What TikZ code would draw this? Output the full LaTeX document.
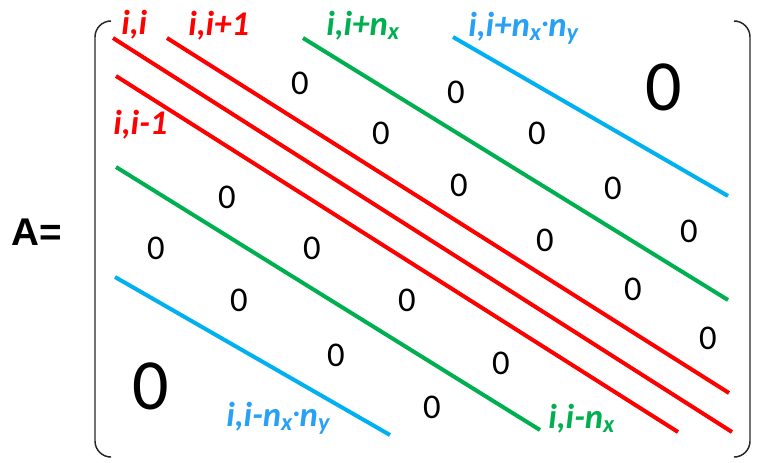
\documentclass[tikz,border=0pt]{standalone}
\usepackage{fontspec}
\setmainfont{Carlito}
\newfontfamily\arialfont{Liberation Sans}
\usetikzlibrary{positioning}
\definecolor{diagred}{RGB}{255,0,0}
\definecolor{diaggreen}{RGB}{0,176,80}
\definecolor{diagblue}{RGB}{0,176,240}
\definecolor{lblblue}{RGB}{40,160,245}
\newcommand{\pontomeio}{\raisebox{0.12em}{\fontsize{19}{19}\selectfont·}}

\begin{document}
\begin{tikzpicture}[
    x=0.75pt,
    y=-0.75pt,
    diagonal/.style={
        line width=3pt
    },
    rotulo/.style={
        anchor=base west,
        inner sep=0pt,
        font=\fontsize{26}{30}\selectfont\bfseries\itshape
    },
    zero/.style={
        inner sep=0pt,
        font=\fontsize{26}{30}\selectfont
    },
    zerogrande/.style={
        inner sep=0pt,
        font=\fontsize{54}{60}\selectfont
    },
    colchete/.style={
        line width=1.1pt,
        black!85,
        rounded corners=12
    }
]

\useasboundingbox (0,0) rectangle (759,462);

% ============================================================
% NOME DA MATRIZ
% ============================================================

\node[inner sep=0pt, font=\arialfont\fontsize{29}{32}\selectfont\bfseries] (nome) at (37,232) {A=};

% ============================================================
% COLCHETES
% ============================================================

\coordinate (esqtopo) at (108,21);
\coordinate (esqbase) at (108,457);
\coordinate (dirtopo) at (737,21);
\coordinate (dirbase) at (737,457);

\draw[colchete] (esqtopo) -- ++(-13,0) -- ++(0,436) -- (esqbase);
\draw[colchete] (dirtopo) -- ++(13,0) -- ++(0,436) -- (dirbase);

% ============================================================
% DIAGONAIS
% ============================================================

\coordinate (d0a) at (113,38);   \coordinate (d0b) at (732,432);
\coordinate (dp1a) at (167,38);  \coordinate (dp1b) at (729,393);
\coordinate (dm1a) at (116,76);  \coordinate (dm1b) at (678,432);
\coordinate (dpxa) at (303,38);  \coordinate (dpxb) at (728,300);
\coordinate (dmxa) at (116,167); \coordinate (dmxb) at (540,430);
\coordinate (dpya) at (453,37);  \coordinate (dpyb) at (728,196);
\coordinate (dmya) at (115,277); \coordinate (dmyb) at (390,435);

\draw[diagonal, diagred] (d0a) -- (d0b);
\draw[diagonal, diagred] (dp1a) -- (dp1b);
\draw[diagonal, diagred] (dm1a) -- (dm1b);
\draw[diagonal, diaggreen] (dpxa) -- (dpxb);
\draw[diagonal, diaggreen] (dmxa) -- (dmxb);
\draw[diagonal, diagblue] (dpya) -- (dpyb);
\draw[diagonal, diagblue] (dmya) -- (dmyb);

% ============================================================
% ROTULOS
% ============================================================

\node[rotulo, diagred] (r0) at (121,34) {i,i};
\node[rotulo, diagred] (rp1) at (188,35) {i,i+1};
\node[rotulo, diagred] (rm1) at (113,134) {i,i-1};
\node[rotulo, diaggreen] (rpx) at (326,35) {i,i+n\textsubscript{x}};
\node[rotulo, diaggreen] (rmx) at (548,428) {i,i-n\textsubscript{x}};
\node[rotulo, lblblue] (rpy) at (468,36) {i,i+n\textsubscript{x}\pontomeio n\textsubscript{y}};
\node[rotulo, lblblue] (rmy) at (226,426) {i,i-n\textsubscript{x}\pontomeio n\textsubscript{y}};

% ============================================================
% ZEROS
% ============================================================

\foreach \px/\py [count=\k] in {300/83, 456/92, 381/133, 537/133,
    459/185, 613/188, 227/197, 689/231, 156/248, 312/248, 545/240,
    239/300, 407/300, 633/289, 708/338, 336/355, 501/363, 432/407}
    \node[zero] (z\k) at (\px,\py) {0};

\node[zerogrande] (zsup) at (664,87) {0};
\node[zerogrande] (zinf) at (151,386) {0};

\end{tikzpicture}
\end{document}
